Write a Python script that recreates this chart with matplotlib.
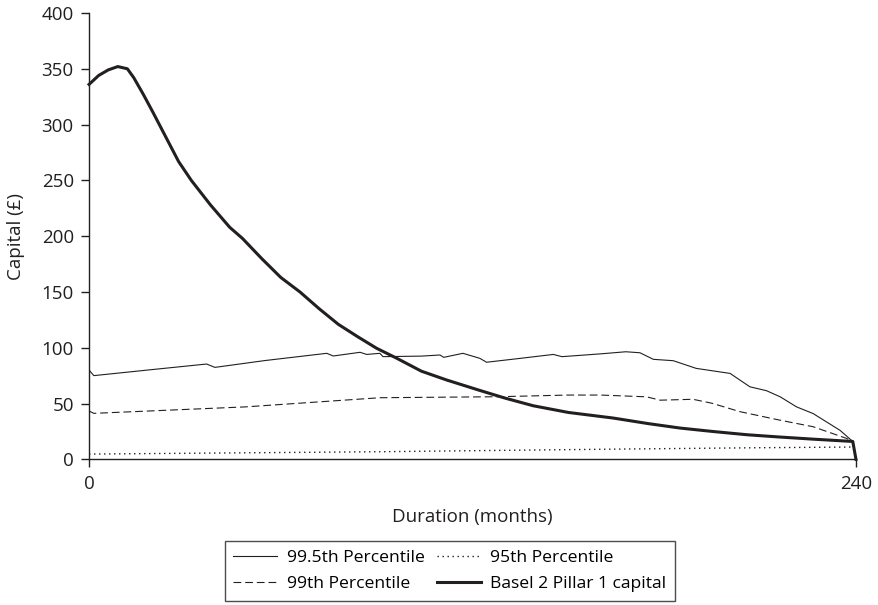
import matplotlib
matplotlib.use("Agg")
import matplotlib.pyplot as plt

plt.rcParams["font.family"] = ["Open Sans", "DejaVu Sans"]

INK = "#231f20"

# Basel 2 Pillar 1 capital (thick line)
basel_m = [0, 3, 6, 9, 12, 14, 17, 20, 24, 28, 32, 38, 44, 48, 54, 60, 66, 72,
           78, 84, 90, 96, 104, 112, 122, 130, 139, 150, 164, 175, 185, 195,
           206, 216, 227, 239, 240]
basel_v = [336, 344, 349, 352, 350, 342, 327, 311, 289, 267, 250, 228, 208, 198,
           180, 163, 150, 135, 121, 110, 99.5, 91, 79, 71, 62, 55, 48, 42, 37,
           32, 28, 25, 22, 20, 18, 16, 0]

# 99.5th percentile
p995_m = [0, 1.5, 20, 36.8, 39.4, 55, 74.4, 76.4, 84.8, 86.9, 91, 92, 104,
          109.8, 111, 117, 122.3, 124.4, 135, 145.3, 148, 160, 168, 172.4,
          176.6, 182.8, 190, 200.6, 206.8, 212, 216.3, 221.4, 226.6, 235, 239]
p995_v = [80, 75, 80.5, 85.4, 82.4, 88.5, 95, 92.6, 95.9, 94, 95, 92, 92.5,
          93.5, 91.4, 95, 90.5, 87, 90.5, 94, 92, 94.5, 96.4, 95.5, 89.6, 88.4,
          81.5, 77, 65, 61.5, 56, 47, 41, 26, 16]

# 99th percentile
p99_m = [0, 1.5, 49, 91, 128, 150, 160, 174.5, 178.7, 189, 195, 203.7, 216,
         226.6, 237, 239]
p99_v = [43.3, 41.2, 47, 55.2, 56.1, 57.6, 57.6, 56, 53, 53.8, 50.2, 42.7,
         35.2, 29.2, 18.8, 16]

# 95th percentile
p95_m = [0, 91, 160, 210, 239]
p95_v = [4.7, 6.8, 9.0, 10.4, 11.0]

fig = plt.figure(figsize=(8.79, 6.05), dpi=100)
ax = fig.add_axes([0.1013, 0.2408, 0.8725, 0.7377])

l1, = ax.plot(p995_m, p995_v, color=INK, lw=0.8, label="99.5th Percentile")
l2, = ax.plot(p99_m, p99_v, color=INK, lw=0.8, dashes=(7, 3.5),
              label="99th Percentile")
l3, = ax.plot(p95_m, p95_v, color=INK, lw=1.0, dashes=(1.0, 2.6),
              label="95th Percentile")
l4, = ax.plot(basel_m, basel_v, color=INK, lw=2.2, clip_on=False,
              label="Basel 2 Pillar 1 capital")

ax.set_xlim(0, 240)
ax.set_ylim(0, 400)
ax.set_xticks([0, 240])
ax.set_yticks(range(0, 401, 50))
ax.spines["top"].set_visible(False)
ax.spines["right"].set_visible(False)
for s in ("left", "bottom"):
    ax.spines[s].set_color(INK)
    ax.spines[s].set_linewidth(1.0)
ax.tick_params(direction="out", length=6, width=1.0, color=INK,
               labelsize=13.5, labelcolor=INK, pad=5)

ax.set_xlabel("Duration (months)", fontsize=13.5, color=INK, labelpad=11)
ax.set_ylabel("Capital (£)", fontsize=13.5, color=INK, labelpad=12)

leg = fig.legend(handles=[l1, l2, l3, l4], ncol=2, loc="center",
                 bbox_to_anchor=(450 / 879, 1 - 571 / 605), fontsize=12.6,
                 frameon=True, fancybox=False, edgecolor=INK,
                 handlelength=2.5, handletextpad=0.55, columnspacing=0.7,
                 labelspacing=0.55, borderpad=0.5)
leg.get_frame().set_linewidth(1.0)

fig.savefig("out.png", dpi=100)
